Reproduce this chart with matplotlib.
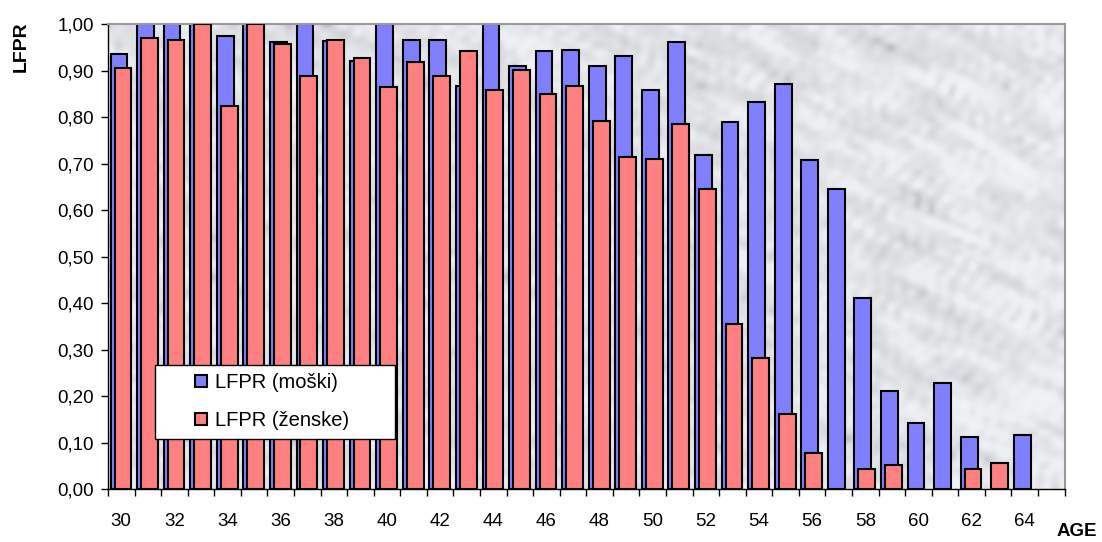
import numpy as np
import matplotlib.pyplot as plt
from matplotlib.colors import LinearSegmentedColormap
from matplotlib.patches import Rectangle
from matplotlib.ticker import FuncFormatter

plt.rcParams['font.family'] = ['Liberation Sans', 'DejaVu Sans']

# Starost
ages = list(range(30, 65))

# LFPR po starosti - moški
lfpr_m = [0.936, 1.00, 1.00, 1.00, 0.974, 1.00, 0.961, 1.00, 0.964, 0.921,
          1.00, 0.966, 0.966, 0.867, 1.00, 0.910, 0.941, 0.944, 0.910, 0.931,
          0.859, 0.961, 0.718, 0.790, 0.833, 0.871, 0.708, 0.645, 0.411, 0.211,
          0.142, 0.228, 0.112, np.nan, 0.117]

# LFPR po starosti - ženske
lfpr_z = [0.905, 0.969, 0.966, 1.00, 0.824, 1.00, 0.958, 0.889, 0.966, 0.927,
          0.864, 0.919, 0.889, 0.941, 0.859, 0.901, 0.850, 0.867, 0.791, 0.714,
          0.709, 0.786, 0.645, 0.355, 0.283, 0.162, 0.077, np.nan, 0.043, 0.052,
          np.nan, np.nan, 0.043, 0.056, np.nan]

W, H = 1102, 542
fig = plt.figure(figsize=(W / 100, H / 100), dpi=100)
ax = fig.add_axes([0.098, 0.0972, 0.868, 0.8585])

# marmorna podlaga: svetlo siva z rahlimi diagonalnimi žilami
rng = np.random.default_rng(7)
tex = rng.normal(size=(70, 140))
tex = (tex + np.roll(tex, (1, 2), axis=(0, 1)) + np.roll(tex, (2, 4), axis=(0, 1))) / 3
marble = LinearSegmentedColormap.from_list('marble', ['#a9aab0', '#d6d7db', '#eceef2', '#f6f7f9'])
ax.imshow(tex, extent=(29.5, 65.5, 0, 1), aspect='auto', cmap=marble,
          vmin=-1.6, vmax=1.4, interpolation='bicubic', zorder=0)

x = np.array(ages)
w = 0.63
ax.bar(x - 0.09, lfpr_m, width=w, color='#8080ff', edgecolor='black',
       linewidth=1.5, label='LFPR (moški)', zorder=2)
ax.bar(x + 0.06, lfpr_z, width=w, color='#ff8080', edgecolor='black',
       linewidth=1.5, label='LFPR (ženske)', zorder=3)

ax.set_xlim(29.5, 65.5)
ax.set_ylim(0, 1)

ax.set_yticks(np.arange(0, 1.01, 0.1))
ax.yaxis.set_major_formatter(FuncFormatter(lambda v, p: f'{v:.2f}'.replace('.', ',')))
ax.set_xticks(range(30, 65, 2))
ax.set_xticks(np.arange(29.5, 65.6, 1), minor=True)
ax.tick_params(axis='x', which='major', length=0, pad=17, labelsize=13.5)
ax.tick_params(axis='x', which='minor', length=5, width=1)
ax.tick_params(axis='y', length=5, width=1, labelsize=13.5, pad=5)

for s in ['top', 'right']:
    ax.spines[s].set_color('#999999')
    ax.spines[s].set_linewidth(1.5)
for s in ['left', 'bottom']:
    ax.spines[s].set_color('black')
    ax.spines[s].set_linewidth(1)

fig.text(21 / W, 1 - 21 / H, 'LFPR', rotation=90, fontsize=14, fontweight='bold',
         ha='center', va='top')
fig.text(1057 / W, 2 / H, 'AGE', fontsize=13.5, fontweight='bold', ha='left', va='bottom')

# okvir legende
box = Rectangle((155 / W, 1 - 439 / H), 240 / W, 74 / H, transform=fig.transFigure,
                facecolor='white', edgecolor='black', linewidth=1, zorder=4,
                clip_on=False)
ax.add_patch(box)

leg = ax.legend(loc='upper left', bbox_to_anchor=(195 / W, 1 - 373 / H),
                bbox_transform=fig.transFigure, fontsize=14.5, frameon=False,
                handlelength=0.6, handleheight=0.6, handletextpad=0.4,
                borderpad=0, labelspacing=0.95, borderaxespad=0)
leg.set_zorder(5)

fig.savefig('out.png', dpi=100)
